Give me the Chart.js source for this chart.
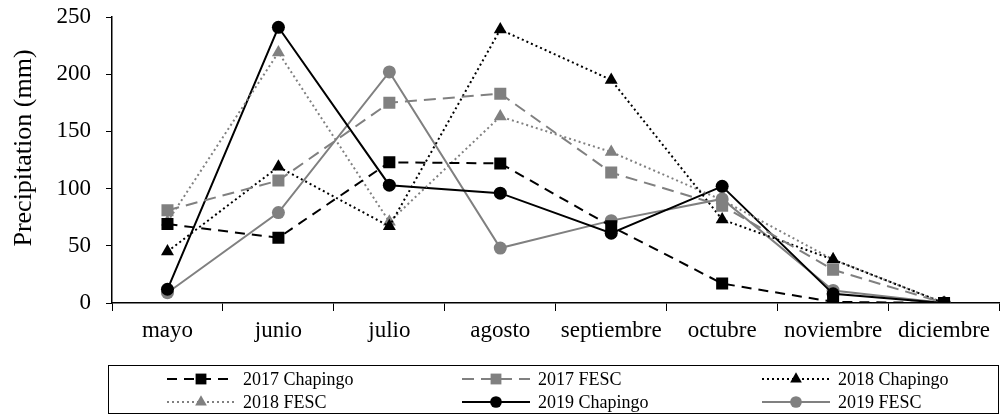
<!DOCTYPE html>
<html>
<head>
<meta charset="utf-8">
<script src="https://cdn.jsdelivr.net/npm/chart.js"></script>
<style>
  html, body { margin: 0; padding: 0; background: #fff; overflow: hidden; }
  #caja { width: 1008px; height: 415px; }
</style>
</head>
<body>
<div id="caja"><canvas id="graficoLluvia" width="1008" height="415"></canvas></div>
<script>
// datos
const meses = ["mayo", "junio", "julio", "agosto", "septiembre", "octubre", "noviembre", "diciembre"];
const chapingo2017 = [69, 57, 123, 122, 67, 17, 1, 0];
const fesc2017 = [81, 107, 175, 183, 114, 85, 29, 0];
const chapingo2018 = [45, 119, 67, 239, 195, 73, 38, 0];
const fesc2018 = [71, 219, 71, 163, 132, 90, 38, 0];
const chapingo2019 = [12, 241, 103, 96, 61, 102, 8, 0];
const fesc2019 = [9, 79, 202, 48, 72, 91, 11, 0];
const ticksY = [0, 50, 100, 150, 200, 250];
const tituloY = "Precipitation (mm)";

const negro = "#000000";
const gris = "#808080";
const fuente = "'Liberation Serif', 'Times New Roman', serif";

function serie(label, data, color, dash, estilo, radio) {
  return {
    label: label,
    data: data,
    borderColor: color,
    backgroundColor: color,
    borderWidth: 2,
    borderDash: dash,
    pointStyle: estilo,
    pointRadius: radio,
    pointHoverRadius: radio,
    pointBackgroundColor: color,
    pointBorderColor: color,
    pointBorderWidth: 0,
    tension: 0,
    fill: false
  };
}

const datasets = [
  serie("2017 Chapingo", chapingo2017, negro, [10, 7], "rect", 8.5),
  serie("2017 FESC", fesc2017, gris, [12, 7], "rect", 8.5),
  serie("2018 Chapingo", chapingo2018, negro, [2, 3], "triangle", 7.5),
  serie("2018 FESC", fesc2018, gris, [2, 3], "triangle", 7.5),
  serie("2019 Chapingo", chapingo2019, negro, [], "circle", 6.5),
  serie("2019 FESC", fesc2019, gris, [], "circle", 6.5)
];

// titulo del eje Y y leyenda con recuadro, 3 columnas
const leyendaCaja = {
  id: "leyendaCaja",
  afterDraw(chart) {
    const ctx = chart.ctx;
    ctx.save();
    ctx.translate(24, 148);
    ctx.rotate(-Math.PI / 2);
    ctx.fillStyle = "#000";
    ctx.font = "26px " + fuente;
    ctx.textAlign = "center";
    ctx.textBaseline = "middle";
    ctx.fillText(tituloY, 0, 0);
    ctx.restore();

    ctx.save();
    ctx.strokeStyle = "#000";
    ctx.lineWidth = 1;
    ctx.strokeRect(108.5, 365.5, 890, 48);
    const columnas = [167, 462, 762];
    const filas = [379, 402];
    chart.data.datasets.forEach((ds, i) => {
      const x = columnas[i % 3];
      const y = filas[Math.floor(i / 3)];
      ctx.strokeStyle = ds.borderColor;
      ctx.lineWidth = ds.borderWidth;
      ctx.setLineDash(ds.borderDash);
      ctx.beginPath();
      ctx.moveTo(x, y);
      ctx.lineTo(x + 68, y);
      ctx.stroke();
      ctx.setLineDash([]);
      ctx.fillStyle = ds.pointBackgroundColor;
      ctx.strokeStyle = ds.pointBorderColor;
      Chart.helpers.drawPoint(ctx, {
        pointStyle: ds.pointStyle,
        radius: ds.pointRadius * 0.9,
        rotation: 0,
        borderWidth: 0
      }, x + 34, y);
      ctx.fillStyle = "#000";
      ctx.font = "18px " + fuente;
      ctx.textBaseline = "middle";
      ctx.textAlign = "left";
      ctx.fillText(ds.label, x + 76, y + 1);
    });
    ctx.restore();
  }
};

const ctx = document.getElementById("graficoLluvia").getContext("2d");
const chart = new Chart(ctx, {
  type: "line",
  data: { labels: meses, datasets: datasets },
  plugins: [leyendaCaja],
  options: {
    responsive: false,
    animation: false,
    layout: { padding: { top: 17, right: 0, bottom: 0, left: 0 } },
    plugins: {
      legend: { display: false },
      tooltip: { enabled: false }
    },
    scales: {
      x: {
        offset: true,
        afterFit: s => { s.height = 112; },
        grid: { display: true, offset: true, drawOnChartArea: false, tickLength: 8, color: "#000", tickColor: "#000" },
        border: { display: true, color: "#000", width: 1.5 },
        ticks: { color: "#000", font: { family: fuente, size: 23 }, padding: 6, maxRotation: 0, autoSkip: false }
      },
      y: {
        min: 0,
        max: 250,
        afterFit: s => { s.width = 112; s.paddingTop = 0; },
        afterBuildTicks: s => { s.ticks = ticksY.map(v => ({ value: v })); },
        grid: { display: true, drawOnChartArea: false, tickLength: 6, color: "#000", tickColor: "#000" },
        border: { display: true, color: "#000", width: 1.5 },
        ticks: { color: "#000", font: { family: fuente, size: 23 }, padding: 15 }
      }
    }
  }
});
</script>
</body>
</html>
